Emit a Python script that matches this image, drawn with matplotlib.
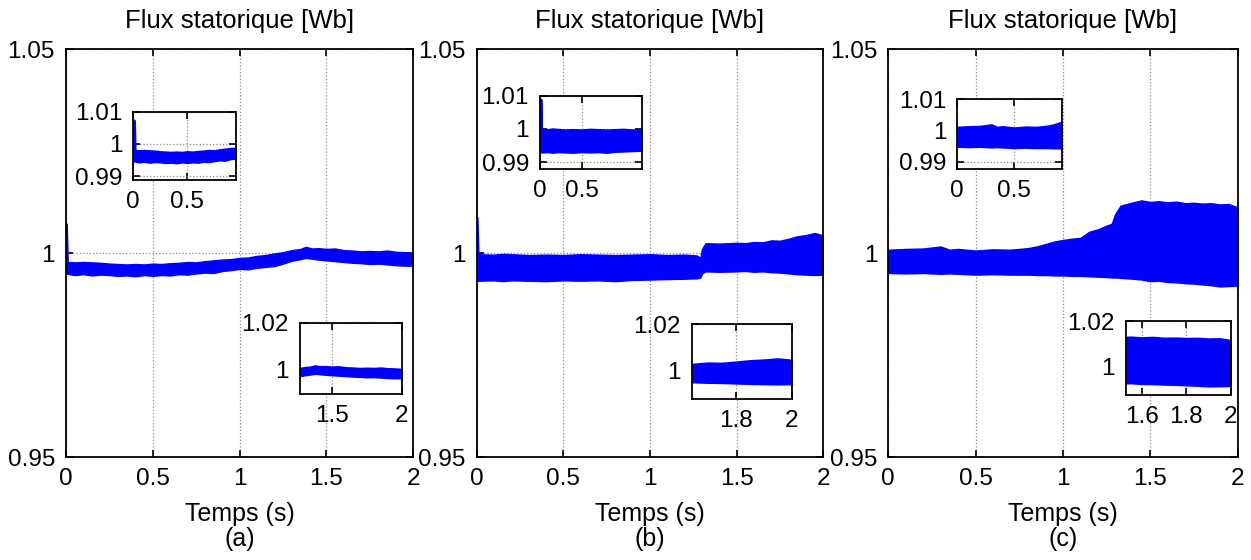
import matplotlib
matplotlib.use("Agg")
import matplotlib.pyplot as plt

plt.rcParams['font.family'] = ['Liberation Sans', 'DejaVu Sans']

# ---------------- data (envelope of the stator flux band) ----------------
title_text = "Flux statorique [Wb]"
xlabel_text = "Temps (s)"
panel_labels = ["(a)", "(b)", "(c)"]

main_xticks = [0, 0.5, 1, 1.5, 2]
main_xticklabels = ["0", "0.5", "1", "1.5", "2"]
main_yticks = [0.95, 1.0, 1.05]
main_yticklabels = ["0.95", "1", "1.05"]

# panel (a)
t_a = [0.0, 0.004, 0.01, 0.05, 0.10, 0.15, 0.20, 0.25, 0.30, 0.35, 0.40, 0.45,
       0.50, 0.55, 0.60, 0.65, 0.70, 0.75, 0.80, 0.85, 0.90, 0.95, 1.00, 1.05,
       1.10, 1.15, 1.20, 1.25, 1.30, 1.35, 1.38, 1.42, 1.45, 1.50, 1.55, 1.60,
       1.65, 1.70, 1.75, 1.80, 1.85, 1.90, 1.95, 2.00]
up_a = [1.0072, 1.0072, 0.9978, 0.9977, 0.9978, 0.9977, 0.9976, 0.9974, 0.9973,
        0.9972, 0.9973, 0.9972, 0.9974, 0.9973, 0.9975, 0.9976, 0.9978, 0.9977,
        0.9980, 0.9982, 0.9984, 0.9985, 0.9988, 0.9989, 0.9993, 0.9995, 0.9999,
        1.0002, 1.0007, 1.0010, 1.0015, 1.0011, 1.0012, 1.0010, 1.0011, 1.0007,
        1.0006, 1.0004, 1.0005, 1.0004, 1.0006, 1.0003, 1.0002, 1.0000]
lo_a = [0.9949, 0.9949, 0.9949, 0.9946, 0.9948, 0.9945, 0.9947, 0.9946, 0.9944,
        0.9945, 0.9943, 0.9946, 0.9944, 0.9946, 0.9945, 0.9948, 0.9947, 0.9950,
        0.9952, 0.9951, 0.9956, 0.9958, 0.9961, 0.9960, 0.9964, 0.9966, 0.9968,
        0.9974, 0.9981, 0.9985, 0.9988, 0.9986, 0.9984, 0.9982, 0.9980, 0.9978,
        0.9976, 0.9975, 0.9973, 0.9974, 0.9972, 0.9970, 0.9969, 0.9969]

# panel (b)
t_b = [0.0, 0.004, 0.01, 0.10, 0.15, 0.20, 0.30, 0.40, 0.50, 0.60, 0.70, 0.80,
       0.90, 1.00, 1.10, 1.20, 1.27, 1.29, 1.30, 1.32, 1.40, 1.50, 1.55, 1.60,
       1.65, 1.70, 1.75, 1.80, 1.85, 1.90, 1.95, 2.00]
up_b = [1.0088, 1.0088, 0.9997, 0.9996, 0.9998, 0.9997, 0.9995, 0.9996, 0.9995,
        0.9997, 0.9996, 0.9995, 0.9996, 0.9997, 0.9995, 0.9996, 0.9994, 0.9988,
        1.0010, 1.0024, 1.0023, 1.0025, 1.0024, 1.0027, 1.0026, 1.0031, 1.0030,
        1.0035, 1.0041, 1.0044, 1.0049, 1.0043]
lo_b = [0.9932, 0.9932, 0.9932, 0.9933, 0.9931, 0.9933, 0.9932, 0.9931, 0.9933,
        0.9932, 0.9933, 0.9931, 0.9934, 0.9935, 0.9936, 0.9937, 0.9938, 0.9940,
        0.9950, 0.9955, 0.9954, 0.9955, 0.9956, 0.9954, 0.9955, 0.9953, 0.9952,
        0.9950, 0.9948, 0.9947, 0.9946, 0.9947]

# panel (c)
t_c = [0.0, 0.10, 0.20, 0.30, 0.35, 0.40, 0.50, 0.60, 0.70, 0.80, 0.85, 0.90,
       0.95, 1.00, 1.05, 1.10, 1.15, 1.20, 1.25, 1.28, 1.30, 1.33, 1.40, 1.45,
       1.50, 1.55, 1.60, 1.65, 1.70, 1.75, 1.80, 1.85, 1.90, 1.95, 2.00]
up_c = [1.0008, 1.0010, 1.0011, 1.0016, 1.0008, 1.0010, 1.0006, 1.0009, 1.0008,
        1.0012, 1.0016, 1.0022, 1.0028, 1.0032, 1.0035, 1.0037, 1.0052, 1.0058,
        1.0067, 1.0072, 1.0096, 1.0116, 1.0124, 1.0129, 1.0125, 1.0127, 1.0124,
        1.0126, 1.0122, 1.0123, 1.0121, 1.0122, 1.0119, 1.0120, 1.0112]
lo_c = [0.9951, 0.9950, 0.9951, 0.9949, 0.9950, 0.9949, 0.9947, 0.9948, 0.9947,
        0.9947, 0.9946, 0.9946, 0.9945, 0.9945, 0.9944, 0.9944, 0.9943, 0.9942,
        0.9941, 0.9940, 0.9940, 0.9939, 0.9937, 0.9935, 0.9931, 0.9932, 0.9929,
        0.9928, 0.9926, 0.9925, 0.9923, 0.9921, 0.9918, 0.9919, 0.9920]

# inset axis settings: (xlim, ylim, xticks, xticklabels, yticks, yticklabels)
inset_top = [
    ((0, 0.95), (0.9888, 1.010), [0, 0.5], ["0", "0.5"], [0.99, 1.0, 1.01], ["0.99", "1", "1.01"]),
    ((0, 1.22), (0.9879, 1.010), [0, 0.5], ["0", "0.5"], [0.99, 1.0, 1.01], ["0.99", "1", "1.01"]),
    ((0, 0.92), (0.9876, 1.010), [0, 0.5], ["0", "0.5"], [0.99, 1.0, 1.01], ["0.99", "1", "1.01"]),
]
inset_bot = [
    ((1.274, 2.0), (0.9898, 1.02), [1.5, 2.0], ["1.5", "2"], [1.0, 1.02], ["1", "1.02"]),
    ((1.643, 2.0), (0.9880, 1.02), [1.8, 2.0], ["1.8", "2"], [1.0, 1.02], ["1", "1.02"]),
    ((1.527, 2.0), (0.9876, 1.02), [1.6, 1.8, 2.0], ["1.6", "1.8", "2"], [1.0, 1.02], ["1", "1.02"]),
]

# ---------------- layout (pixels) ----------------
W, H = 1251, 560
main_boxes = [(66, 49, 413.3, 457), (476.7, 49, 823.3, 457), (888.3, 49, 1237.5, 457)]
top_boxes = [(133.3, 111.7, 235.7, 180), (540, 95.7, 641.7, 169), (957.3, 99, 1061.7, 169.3)]
bot_boxes = [(300, 322.7, 401.7, 394), (691.7, 324.3, 791.7, 398.7), (1125.7, 321, 1230.7, 395)]


def rect(b):
    x0, y0, x1, y1 = b
    return [x0 / W, 1 - y1 / H, (x1 - x0) / W, (y1 - y0) / H]


FS = 17.5
fig = plt.figure(figsize=(W / 100, H / 100), dpi=100)


def style(ax):
    ax.set_axisbelow(True)
    ax.tick_params(direction='in', length=5, width=1.2, top=True, right=True,
                   labelsize=FS, pad=8, colors='black')
    ax.grid(True, linestyle=':', color='#8c8c8c', linewidth=0.9)
    for s in ax.spines.values():
        s.set_linewidth(1.3)
        s.set_color('black')
        s.set_zorder(3)


def draw(ax, t, up, lo, lw):
    ax.fill_between(t, lo, up, color='#0000ff', edgecolor='#0000ff',
                    linewidth=lw, zorder=2)


data = [(t_a, up_a, lo_a), (t_b, up_b, lo_b), (t_c, up_c, lo_c)]
for i in range(3):
    t, up, lo = data[i]
    ax = fig.add_axes(rect(main_boxes[i]))
    draw(ax, t, up, lo, 1.0)
    ax.set_xlim(0, 2)
    ax.set_ylim(0.95, 1.05)
    ax.set_xticks(main_xticks)
    ax.set_xticklabels(main_xticklabels)
    ax.set_yticks(main_yticks)
    ax.set_yticklabels(main_yticklabels)
    style(ax)
    ax.set_title(title_text, fontsize=18.5, pad=15)
    cx = (main_boxes[i][0] + main_boxes[i][2]) / 2 / W
    fig.text(cx, 1 - 514 / H, xlabel_text, ha='center', va='center', fontsize=18)
    fig.text(cx, 1 - 539 / H, panel_labels[i], ha='center', va='center', fontsize=18)

    for box, cfg in ((top_boxes[i], inset_top[i]), (bot_boxes[i], inset_bot[i])):
        xl, yl, xt, xtl, yt, ytl = cfg
        ia = fig.add_axes(rect(box))
        ia.set_facecolor('white')
        draw(ia, t, up, lo, 2.5)
        ia.set_xlim(*xl)
        ia.set_ylim(*yl)
        ia.set_xticks(xt)
        ia.set_xticklabels(xtl)
        ia.set_yticks(yt)
        ia.set_yticklabels(ytl)
        style(ia)

fig.savefig("out.png", dpi=100)
